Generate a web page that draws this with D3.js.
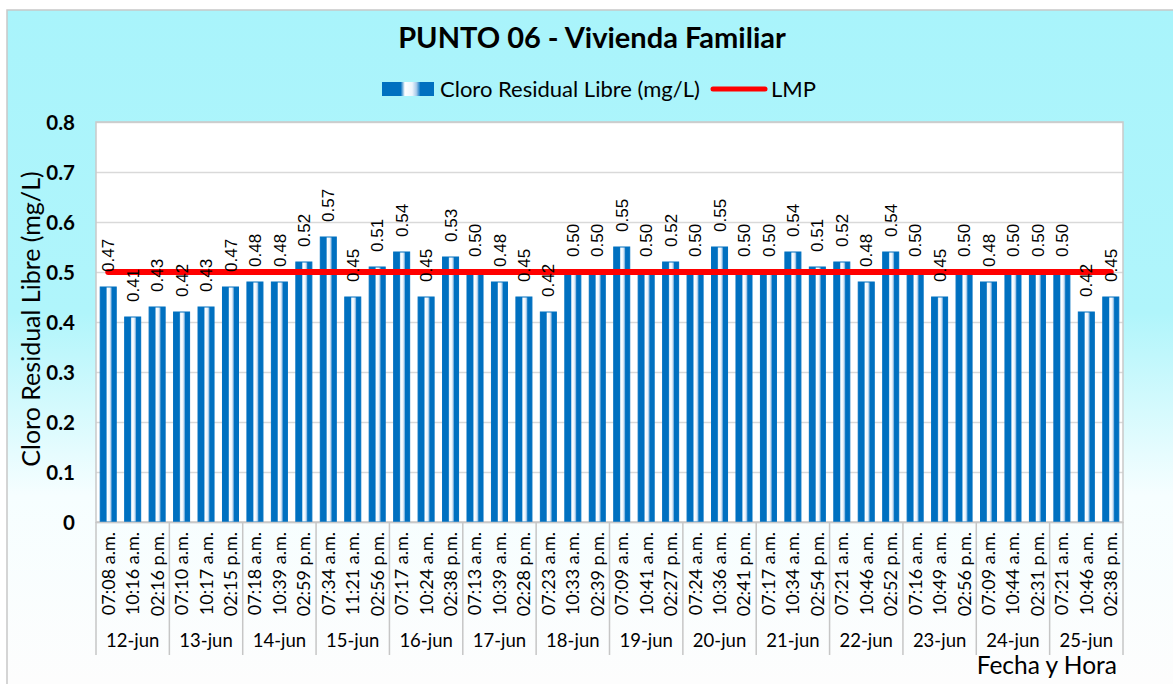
<!DOCTYPE html>
<html>
<head>
<meta charset="utf-8">
<script src="https://cdn.jsdelivr.net/npm/d3@7"></script>
<style>
  html, body { margin: 0; padding: 0; background: #ffffff; }
  svg { display: block; }
</style>
</head>
<body>
<svg id="chart" width="1173" height="684"></svg>
<script>
// ---------------- DATA ----------------
const days = ["12-jun","13-jun","14-jun","15-jun","16-jun","17-jun","18-jun","19-jun","20-jun","21-jun","22-jun","23-jun","24-jun","25-jun"];
const times = [
  "07:08 a.m.","10:16 a.m.","02:16 p.m.",
  "07:10 a.m.","10:17 a.m.","02:15 p.m.",
  "07:18 a.m.","10:39 a.m.","02:59 p.m.",
  "07:34 a.m.","11:21 a.m.","02:56 p.m.",
  "07:17 a.m.","10:24 a.m.","02:38 p.m.",
  "07:13 a.m.","10:39 a.m.","02:28 p.m.",
  "07:23 a.m.","10:33 a.m.","02:39 p.m.",
  "07:09 a.m.","10:41 a.m.","02:27 p.m.",
  "07:24 a.m.","10:36 a.m.","02:41 p.m.",
  "07:17 a.m.","10:34 a.m.","02:54 p.m.",
  "07:21 a.m.","10:46 a.m.","02:52 p.m.",
  "07:16 a.m.","10:49 a.m.","02:56 p.m.",
  "07:09 a.m.","10:44 a.m.","02:31 p.m.",
  "07:21 a.m.","10:46 a.m.","02:38 p.m."
];
const cloro = [
  0.47,0.41,0.43, 0.42,0.43,0.47, 0.48,0.48,0.52, 0.57,0.45,0.51,
  0.54,0.45,0.53, 0.50,0.48,0.45, 0.42,0.50,0.50, 0.55,0.50,0.52,
  0.50,0.55,0.50, 0.50,0.54,0.51, 0.52,0.48,0.54, 0.50,0.45,0.50,
  0.48,0.50,0.50, 0.50,0.42,0.45
];
const lmp = 0.5;
const yTicks = [0,0.1,0.2,0.3,0.4,0.5,0.6,0.7,0.8];
const chartTitle = "PUNTO 06 - Vivienda Familiar";
const seriesName = "Cloro Residual Libre (mg/L)";
const lmpName = "LMP";
const yTitle = "Cloro Residual Libre (mg/L)";
const xTitle = "Fecha y Hora";

// ---------------- LAYOUT ----------------
const W = 1173, H = 684;
const plot = {left: 96, right: 1123, top: 122, bottom: 522};
const FONT = "Lato, 'Open Sans', sans-serif";
const LABEL_FONT = "'Liberation Sans', Arial, sans-serif";

const svg = d3.select("#chart");
const defs = svg.append("defs");

// background gradient
const bg = defs.append("linearGradient").attr("id","bgGrad")
  .attr("gradientUnits","userSpaceOnUse").attr("x1",0).attr("y1",10).attr("x2",0).attr("y2",H);
bg.append("stop").attr("offset","0").attr("stop-color","#a9f4fb");
bg.append("stop").attr("offset","0.45").attr("stop-color","#b0f5fb");
bg.append("stop").attr("offset","0.72").attr("stop-color","#f6feff");
bg.append("stop").attr("offset","1").attr("stop-color","#fdfdfd");

// bar gradient (horizontal)
const bgBar = defs.append("linearGradient").attr("id","barGrad")
  .attr("x1","0").attr("y1","0").attr("x2","1").attr("y2","0");
[["0","#0070c0"],["0.36","#0070c0"],["0.44","#ffffff"],["0.58","#eef5fc"],["0.66","#a9cbea"],["0.74","#0070c0"],["1","#0070c0"]]
  .forEach(([o,c]) => bgBar.append("stop").attr("offset",o).attr("stop-color",c));

// outer chart area
svg.append("rect").attr("x",7).attr("y",10).attr("width",W-7+5).attr("height",H-10+5)
  .attr("fill","url(#bgGrad)").attr("stroke","#c8c8c8").attr("stroke-width",1.5);

// plot area
svg.append("rect").attr("x",plot.left).attr("y",plot.top)
  .attr("width",plot.right-plot.left).attr("height",plot.bottom-plot.top)
  .attr("fill","#ffffff");

// scales
const keys = cloro.map((d,i)=>String(i));
const x = d3.scaleBand().domain(keys).range([plot.left, plot.right]).paddingInner(0.345).paddingOuter(0.1725);
const xDay = d3.scaleBand().domain(days).range([plot.left, plot.right]);
const y = d3.scaleLinear().domain([0,0.8]).range([plot.bottom, plot.top]);

// gridlines
const grid = svg.append("g").attr("transform",`translate(${plot.left},0)`)
  .call(d3.axisLeft(y).tickValues(yTicks).tickSize(-(plot.right-plot.left)).tickFormat(""));
grid.select(".domain").remove();
grid.selectAll(".tick line").attr("stroke","#d9d9d9").attr("stroke-width",1.3);

// plot border
svg.append("rect").attr("x",plot.left).attr("y",plot.top)
  .attr("width",plot.right-plot.left).attr("height",plot.bottom-plot.top)
  .attr("fill","none").attr("stroke","#c9c9c9").attr("stroke-width",1.5);

// y axis labels
const yAx = svg.append("g").attr("transform",`translate(${plot.left-21},0)`)
  .call(d3.axisLeft(y).tickValues(yTicks).tickSize(0).tickPadding(0)
    .tickFormat(d => d === 0 ? "0" : d3.format(".1f")(d)));
yAx.select(".domain").remove();
yAx.selectAll("text").attr("font-family",FONT).attr("font-weight","bold")
  .attr("font-size",20.5).attr("fill","#000").attr("dy","0.35em");

// bars
svg.append("g").selectAll("rect").data(cloro).join("rect")
  .attr("x",(d,i)=>x(keys[i]))
  .attr("y",d=>y(d))
  .attr("width",x.bandwidth())
  .attr("height",d=>y(0)-y(d))
  .attr("fill","url(#barGrad)")
  .attr("stroke","#0070c0").attr("stroke-width",1);

// LMP line
const lmpLine = d3.line().x(d=>d[0]).y(d=>d[1]);
svg.append("path")
  .attr("d", lmpLine([[x(keys[0])+x.bandwidth()/2, y(lmp)],[x(keys[keys.length-1])+x.bandwidth()/2, y(lmp)]]))
  .attr("stroke","#ff0000").attr("stroke-width",6).attr("stroke-linecap","round").attr("fill","none");

// data labels
svg.append("g").selectAll("text").data(cloro).join("text")
  .attr("transform",(d,i)=>`translate(${x(keys[i])+x.bandwidth()/2},${y(d)-15}) rotate(-90)`)
  .attr("text-anchor","start").attr("dy","0.36em")
  .attr("font-family",LABEL_FONT).attr("font-size",17).attr("fill","#000")
  .text(d=>d3.format(".2f")(d));

// x axis (times)
const xAx = svg.append("g").attr("transform",`translate(0,${plot.bottom})`)
  .call(d3.axisBottom(x).tickSize(0).tickFormat(i=>times[+i]));
xAx.select(".domain").attr("stroke","#c9c9c9").attr("stroke-width",1.5);
xAx.selectAll(".tick text")
  .attr("transform","rotate(-90)")
  .attr("text-anchor","end").attr("x",-10).attr("y",0).attr("dy","0.36em")
  .attr("font-family",FONT).attr("font-size",18).attr("fill","#000");

// day separators
const seps = days.map(d=>xDay(d)).concat([plot.right]);
svg.append("g").selectAll("line").data(seps).join("line")
  .attr("x1",d=>d).attr("x2",d=>d).attr("y1",plot.bottom).attr("y2",655)
  .attr("stroke","#c6c6c6").attr("stroke-width",1.5);

// day labels
svg.append("g").selectAll("text").data(days).join("text")
  .attr("x",d=>xDay(d)+xDay.bandwidth()/2).attr("y",641).attr("dy","0.35em")
  .attr("text-anchor","middle").attr("font-family",FONT).attr("font-size",18.5).attr("fill","#000")
  .text(d=>d);

// title
svg.append("text").attr("x",592).attr("y",38).attr("dy","0.35em").attr("text-anchor","middle")
  .attr("font-family",FONT).attr("font-weight","bold").attr("font-size",29).attr("fill","#000")
  .text(chartTitle);

// legend
const lg = svg.append("g");
lg.append("rect").attr("x",382).attr("y",82).attr("width",52).attr("height",14)
  .attr("fill","url(#barGrad)");
lg.append("text").attr("x",440).attr("y",89).attr("dy","0.35em")
  .attr("font-family",FONT).attr("font-size",22).attr("fill","#000").text(seriesName);
lg.append("line").attr("x1",713).attr("x2",765).attr("y1",89).attr("y2",89)
  .attr("stroke","#ff0000").attr("stroke-width",5).attr("stroke-linecap","round");
lg.append("text").attr("x",771).attr("y",89).attr("dy","0.35em")
  .attr("font-family",FONT).attr("font-size",22).attr("fill","#000").text(lmpName);

// axis titles
svg.append("text").attr("transform",`translate(31,319) rotate(-90)`).attr("dy","0.35em")
  .attr("text-anchor","middle").attr("font-family",FONT).attr("font-size",25).attr("fill","#000")
  .text(yTitle);
svg.append("text").attr("x",1117).attr("y",665).attr("dy","0.35em").attr("text-anchor","end")
  .attr("font-family",FONT).attr("font-size",24.5).attr("fill","#000").text(xTitle);
</script>
</body>
</html>
